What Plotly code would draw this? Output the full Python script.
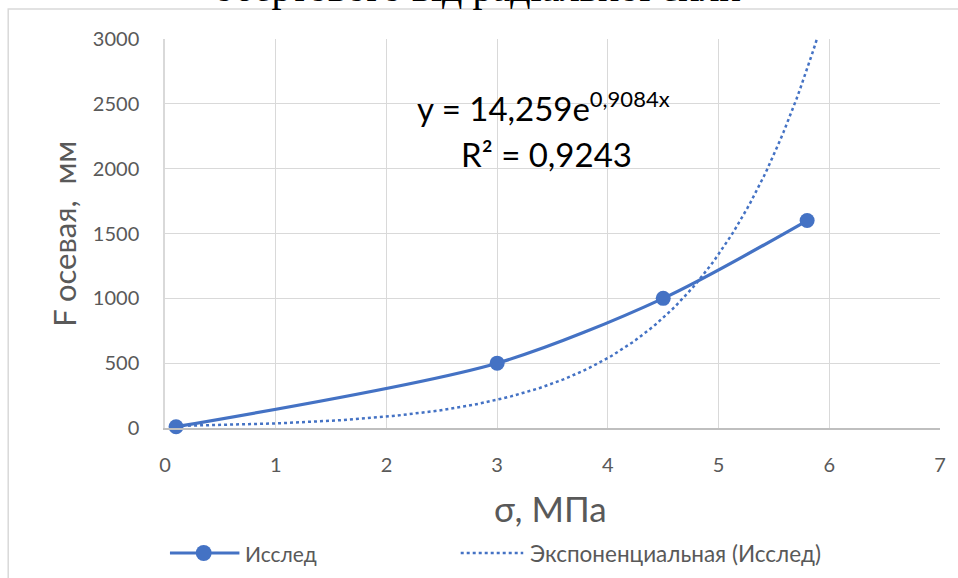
import numpy as np
import plotly.graph_objects as go

# measured data
sigma = [0.1, 3.0, 4.5, 5.8]          # σ, MPa
force = [10, 500, 1000, 1600]          # F axial, mm

x_ticks = [0, 1, 2, 3, 4, 5, 6, 7]
y_ticks = [0, 500, 1000, 1500, 2000, 2500, 3000]

series_name = "Исслед"
trend_name = "Экспоненциальная (Исслед)"

# exponential trend line fitted to ln(F)
b, ln_a = np.polyfit(sigma, np.log(force), 1)
a = np.exp(ln_a)
pred = a * np.exp(b * np.array(sigma))
ss_res = np.sum((np.log(force) - np.log(pred)) ** 2)
ss_tot = np.sum((np.log(force) - np.mean(np.log(force))) ** 2)
r2 = 1 - ss_res / ss_tot
trend_x = np.linspace(sigma[0], 6.0, 200)
trend_y = a * np.exp(b * trend_x)

BLUE = "#4472C4"
FONT = "Lato"
GREY_TXT = "#595959"

fig = go.Figure()
fig.add_trace(go.Scatter(
    x=sigma, y=force, name=series_name, mode="lines+markers",
    line=dict(color=BLUE, width=3.2, shape="spline", smoothing=0.8),
    marker=dict(color=BLUE, size=15, symbol="circle"),
    cliponaxis=False, showlegend=False,
))
fig.add_trace(go.Scatter(
    x=trend_x, y=trend_y, name=trend_name, mode="lines",
    line=dict(color=BLUE, width=2.5, dash="dot"), showlegend=False,
))

def fmt(v, d):
    return f"{v:.{d}f}".replace(".", ",")

L, R, T, B = 165, 12, 39, 150
W, H = 958, 578
pw, ph = W - L - R, H - T - B

def px(xp):
    return (xp - L) / pw

def py(yp):
    return (H - B - yp) / ph

eq_line1 = f"y = {fmt(a, 3)}e<sup><span style='font-size:22px'>{fmt(b, 4)}x</span></sup>"
eq_line2 = f"R² = {fmt(r2, 4)}"

annotations = [
    dict(text=eq_line1, x=px(546), y=py(106), xref="paper", yref="paper",
         showarrow=False, font=dict(family=FONT, size=33, color="#000000"),
         xanchor="center", yanchor="middle"),
    dict(text=eq_line2, x=px(549), y=py(154), xref="paper", yref="paper",
         showarrow=False, font=dict(family=FONT, size=33, color="#000000"),
         xanchor="center", yanchor="middle"),
    dict(text="σ, МПа", x=px(553), y=py(508), xref="paper", yref="paper",
         showarrow=False, font=dict(family=FONT, size=35, color=GREY_TXT),
         xanchor="center", yanchor="middle"),
    dict(text="F осевая,  мм", x=px(63), y=py(234), xref="paper", yref="paper",
         showarrow=False, textangle=-90, font=dict(family=FONT, size=31, color=GREY_TXT),
         xanchor="center", yanchor="middle"),
    dict(text="обертового від радіальної сили", x=px(480), y=py(-12), xref="paper",
         yref="paper", showarrow=False,
         font=dict(family="Liberation Serif", size=40, color="#000000"),
         xanchor="center", yanchor="middle"),
    # legend entries
    dict(text=series_name, x=px(244), y=py(553), xref="paper", yref="paper",
         showarrow=False, font=dict(family=FONT, size=21, color=GREY_TXT),
         xanchor="left", yanchor="middle"),
    dict(text=trend_name, x=px(531), y=py(553), xref="paper", yref="paper",
         showarrow=False, font=dict(family=FONT, size=22.5, color=GREY_TXT),
         xanchor="left", yanchor="middle"),
]

r_mark = 8
shapes = [
    # chart frame
    dict(type="rect", xref="paper", yref="paper", x0=px(7), x1=px(1100),
         y0=py(700), y1=py(9), line=dict(color="#D9D9D9", width=1.5),
         fillcolor="rgba(0,0,0,0)", layer="below"),
    # legend samples
    dict(type="line", xref="paper", yref="paper", x0=px(170), x1=px(240),
         y0=py(553), y1=py(553), line=dict(color=BLUE, width=3.2)),
    dict(type="circle", xref="paper", yref="paper", x0=px(204 - r_mark), x1=px(204 + r_mark),
         y0=py(553 + r_mark), y1=py(553 - r_mark), line=dict(color=BLUE, width=0),
         fillcolor=BLUE),
    dict(type="line", xref="paper", yref="paper", x0=px(463), x1=px(526),
         y0=py(553), y1=py(553), line=dict(color=BLUE, width=2.5, dash="dot")),
]

fig.update_layout(
    width=W, height=H,
    margin=dict(l=L, r=R, t=T, b=B, pad=0),
    paper_bgcolor="white", plot_bgcolor="white",
    showlegend=False,
    annotations=annotations,
    shapes=shapes,
    xaxis=dict(range=[0, 7], tickvals=x_ticks, showgrid=True, gridcolor="#D9D9D9",
               gridwidth=1, showline=True, linecolor="#BFBFBF", linewidth=1.5,
               zeroline=False, ticks="", ticklen=0, ticklabelstandoff=18,
               tickfont=dict(family=FONT, size=20, color=GREY_TXT)),
    yaxis=dict(range=[0, 3000], tickvals=y_ticks, showgrid=True, gridcolor="#D9D9D9",
               gridwidth=1, showline=True, linecolor="#D9D9D9", linewidth=1.5,
               zeroline=False, ticks="", ticklen=0, ticklabelstandoff=20,
               tickfont=dict(family=FONT, size=20, color=GREY_TXT)),
)

fig.write_html("out.html")
